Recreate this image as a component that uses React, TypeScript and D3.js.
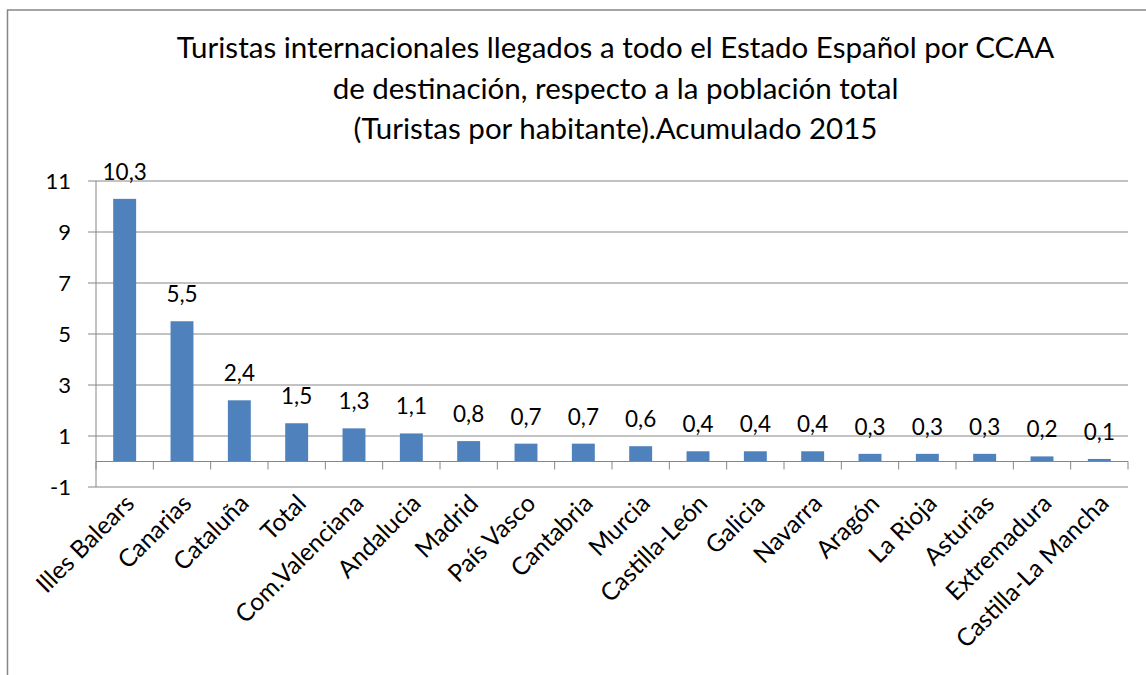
import React from "react";
import * as d3 from "d3";

const categories = [
  "Illes Balears", "Canarias", "Cataluña", "Total", "Com.Valenciana", "Andalucia",
  "Madrid", "País Vasco", "Cantabria", "Murcia", "Castilla-León", "Galicia",
  "Navarra", "Aragón", "La Rioja", "Asturias", "Extremadura", "Castilla-La Mancha",
];
const values = [10.3, 5.5, 2.4, 1.5, 1.3, 1.1, 0.8, 0.7, 0.7, 0.6, 0.4, 0.4, 0.4, 0.3, 0.3, 0.3, 0.2, 0.1];
const yTicks = [-1, 1, 3, 5, 7, 9, 11];
const titleLines = [
  "Turistas internacionales llegados a todo el Estado Español por CCAA",
  "de destinación, respecto a la población total",
  "(Turistas por habitante).Acumulado 2015",
];

const W = 1146;
const H = 675;
const FONT = "Lato, 'Open Sans', sans-serif";
const GRID = "#868686";

export default function App() {
  const left = 96, right = 1128, top = 181, bottom = 487;
  const x = d3.scaleBand<string>().domain(categories).range([left, right]).paddingInner(0).paddingOuter(0);
  const y = d3.scaleLinear().domain([-1, 11]).range([bottom, top]);
  const bw = x.bandwidth() / 2.5;
  const y0 = y(0);
  const fmt = (v: number) => d3.format(".1f")(v).replace(".", ",");
  const bounds = d3.range(categories.length + 1).map((i) => left + i * x.step());

  return (
    <svg width={W} height={H} style={{ position: "absolute", left: 0, top: 0, background: "#fff" }} fontFamily={FONT}>
      <rect x={0} y={0} width={W} height={H} fill="#fff" />
      {/* frame */}
      <path d={`M7.5,${H + 5} V10 H${W + 5}`} fill="none" stroke={GRID} strokeWidth={1.5} />
      {/* title */}
      {titleLines.map((t, i) => (
        <text key={i} x={615.5} y={58 + i * 40.5} textAnchor="middle" fontSize={29.5} fill="#000">
          {t}
        </text>
      ))}
      {/* gridlines */}
      {yTicks.map((t) => (
        <g key={t}>
          <line x1={left} x2={right} y1={y(t)} y2={y(t)} stroke={GRID} strokeWidth={1} />
          <line x1={88} x2={left} y1={y(t)} y2={y(t)} stroke={GRID} strokeWidth={1} />
          <text x={71} y={y(t)} dy="0.36em" textAnchor="end" fontSize={22} fill="#000">
            {t}
          </text>
        </g>
      ))}
      {/* y axis */}
      <line x1={left} x2={left} y1={top} y2={bottom} stroke={GRID} strokeWidth={1} />
      {/* bars */}
      {categories.map((c, i) => {
        const cx = (x(c) as number) + x.step() / 2;
        const yt = y(values[i]);
        return (
          <g key={c}>
            <rect x={cx - bw / 2} y={yt} width={bw} height={y0 - yt} fill="#4F81BD" />
            <text x={cx} y={yt - 19} textAnchor="middle" fontSize={22.5} fill="#000">
              {fmt(values[i])}
            </text>
          </g>
        );
      })}
      {/* x axis */}
      <line x1={left} x2={right} y1={y0} y2={y0} stroke={GRID} strokeWidth={1} />
      {bounds.map((bx, i) => (
        <line key={i} x1={bx} x2={bx} y1={y0} y2={y0 + 8} stroke={GRID} strokeWidth={1} />
      ))}
      {/* category labels */}
      {categories.map((c) => {
        const cx = (x(c) as number) + x.step() / 2;
        const ax = cx - 2;
        const ay = 492;
        return (
          <text
            key={c}
            x={ax}
            y={ay}
            dy="0.75em"
            textAnchor="end"
            fontSize={24.5}
            fill="#000"
            transform={`rotate(-45 ${ax} ${ay})`}
          >
            {c}
          </text>
        );
      })}
    </svg>
  );
}
